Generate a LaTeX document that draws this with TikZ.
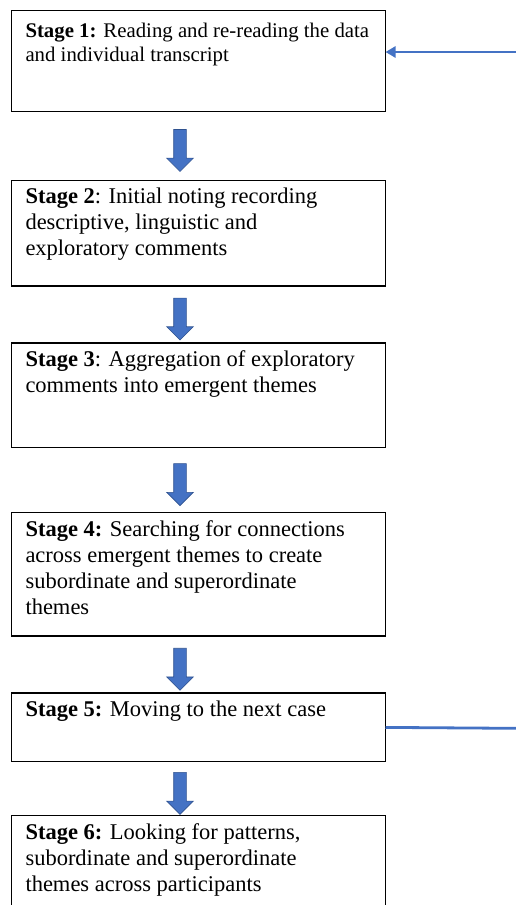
\documentclass[tikz,border=0pt]{standalone}
\usepackage{fontspec}
\setmainfont{Liberation Serif}
\usetikzlibrary{positioning, arrows.meta, shapes.arrows, calc}
\usepackage{xcolor}
\definecolor{officeblue}{RGB}{68, 114, 196}
\definecolor{officeedge}{RGB}{47, 82, 143}
\newcommand{\stagetext}[2]{\parbox[c][#1][t]{346pt}{#2}}

\begin{document}
\begin{tikzpicture}[x=1pt, y=1pt,
    stagebox/.style={draw, line width=1.4pt, inner xsep=14pt, inner ysep=8pt,
                     outer sep=0pt, anchor=north, align=left,
                     font=\fontsize{22.5}{26}\selectfont},
    downarrow/.style={single arrow, draw=officeedge, fill=officeblue,
                      line width=0.6pt, inner sep=6pt,
                      minimum height=42pt, minimum width=26pt,
                      single arrow head extend=7pt, shape border rotate=270},
    feedline/.style={draw=officeblue, line width=2.8pt}]
        \useasboundingbox (0,0) rectangle (516,-905);
        \clip (0,0) rectangle (516,-905);
        \node[stagebox, inner ysep=12pt, font=\fontsize{20.8}{24.5}\selectfont] (s1) at (198.5,-10.7)
              {\stagetext{76.6pt}{\textbf{Stage 1:} Reading and re-reading the data\\
               and individual transcript}};
        \node[stagebox, below=69pt of s1] (s2)
              {\stagetext{89.6pt}{\textbf{Stage 2}: Initial noting recording\\
               descriptive, linguistic and\\ exploratory comments}};
        \node[stagebox, below=57pt of s2] (s3)
              {\stagetext{88.6pt}{\textbf{Stage 3}: Aggregation of exploratory\\
               comments into emergent themes}};
        \node[stagebox, below=65pt of s3] (s4)
              {\stagetext{107.6pt}{\textbf{Stage 4:} Searching for connections\\
               across emergent themes to create\\
               subordinate and superordinate\\ themes}};
        \node[stagebox, below=57pt of s4] (s5)
              {\stagetext{52.6pt}{\textbf{Stage 5:} Moving to the next case}};
        \node[stagebox, below=54pt of s5] (s6)
              {\stagetext{82.6pt}{\textbf{Stage 6:} Looking for patterns,\\
               subordinate and superordinate\\ themes across participants}};
        \foreach \a/\b in {s1/s2, s2/s3, s3/s4, s4/s5, s5/s6}
            \node[downarrow] at ($(\a.south)!0.5!(\b.north)+(-18.5pt,-1.5pt)$) {};
        \coordinate (r1) at ($(s1.east)+(140pt,9pt)$);
        \coordinate (r5) at ($(s5.east)+(140pt,-1pt)$);
        \draw[feedline, -{Triangle[length=10pt, width=11pt]}] (r1) -- ([yshift=9pt]s1.east);
        \draw[feedline] (s5.east) -- (r5);
      \end{tikzpicture}
\end{document}
